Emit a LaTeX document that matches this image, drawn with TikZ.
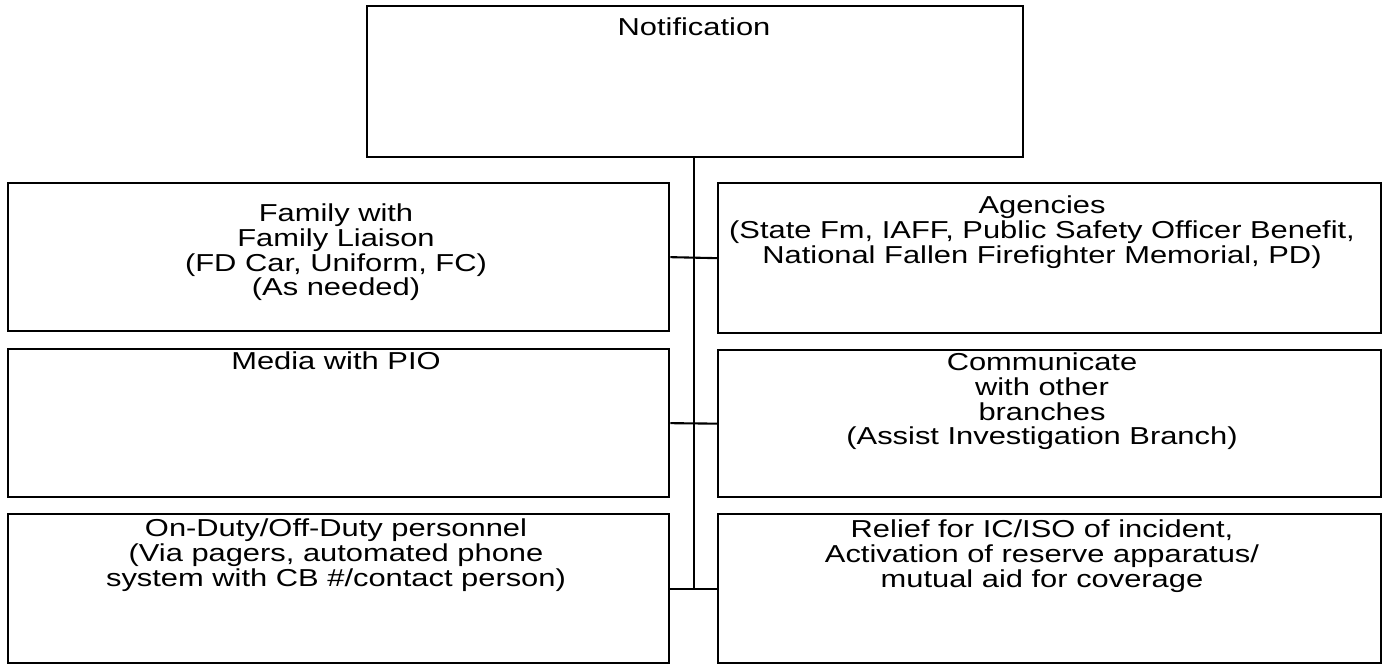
\documentclass[tikz,border=0pt]{standalone}
\usepackage{fontspec}
\setmainfont{Liberation Sans}[FakeStretch=1.26]
\usetikzlibrary{calc}
\begin{document}
\begin{tikzpicture}[x=1pt,y=-1pt,
  panel/.style={draw=black, line width=2.3pt, rectangle, inner sep=0pt, anchor=north west},
  caption/.style={anchor=north, align=center, inner sep=0pt, font=\fontsize{24.5}{24.6}\selectfont},
  link/.style={draw=black, line width=2.1pt}]
\useasboundingbox (0,0) rectangle (1387,664);

% boxes
\node[panel, minimum width=656pt, minimum height=151pt] (note)   at (366,5)   {};
\node[panel, minimum width=661pt, minimum height=148pt] (fam)    at (7,182)   {};
\node[panel, minimum width=663pt, minimum height=150pt] (agen)   at (717,182) {};
\node[panel, minimum width=661pt, minimum height=148pt] (media)  at (7,348)   {};
\node[panel, minimum width=663pt, minimum height=147pt] (comm)   at (717,349) {};
\node[panel, minimum width=661pt, minimum height=149pt] (duty)   at (7,513)   {};
\node[panel, minimum width=663pt, minimum height=149pt] (relief) at (717,513) {};

% texts
\node[caption] (noteT)   at (694,18)   {Notification};
\node[caption] (famT)    at (336,204)  {Family with\\Family Liaison\\(FD Car, Uniform, FC)\\(As needed)};
\node[caption] (agenT)   at (1042,196) {Agencies\\(State Fm, IAFF, Public Safety Officer Benefit,\\National Fallen Firefighter Memorial, PD)};
\node[caption] (mediaT)  at (336,352)  {Media with PIO};
\node[caption] (commT)   at (1042,353) {Communicate\\with other\\branches\\(Assist Investigation Branch)};
\node[caption] (dutyT)   at (336,519)  {On-Duty/Off-Duty personnel\\(Via pagers, automated phone\\system with CB \#/contact person)};
\node[caption] (reliefT) at (1042,520) {Relief for IC/ISO of incident,\\Activation of reserve apparatus/\\mutual aid for coverage};

% connectors
\coordinate (j3) at ($(duty.east)!0.5!(relief.west)$);
\draw[link] (j3 |- note.south) -- (j3);
\draw[link] (fam.east) -- (agen.west);
\draw[link] (media.east) -- (comm.west);
\draw[link] (duty.east) -- (relief.west);
\end{tikzpicture}
\end{document}
